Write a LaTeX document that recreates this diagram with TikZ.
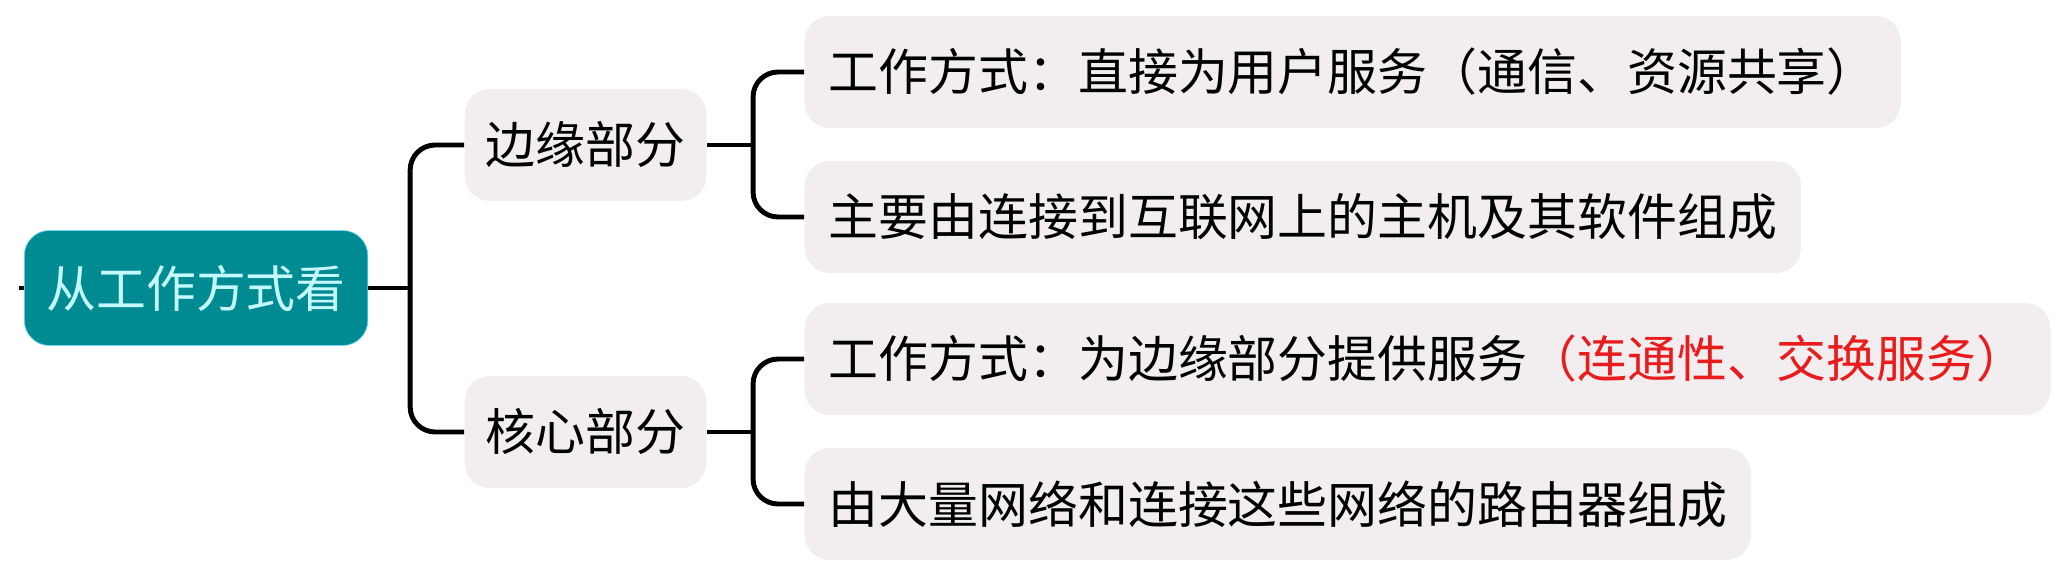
\documentclass[tikz,border=0pt]{standalone}
\usepackage{fontspec}
\setmainfont{Noto Sans CJK SC}
\usetikzlibrary{positioning, calc}

\definecolor{roottl}{RGB}{0,138,146}
\definecolor{rootfg}{RGB}{196,250,255}
\definecolor{boxbg}{RGB}{242,238,239}
\definecolor{hired}{RGB}{232,28,28}

\begin{document}
\begin{tikzpicture}[
     rootbox/.style={fill=roottl, draw=cyan!55, very thin, rounded corners=0.25cm, text=rootfg,
          inner xsep=0.22cm, minimum height=1.15cm, anchor=west},
     partbox/.style={fill=boxbg, rounded corners=0.25cm, inner xsep=0.21cm, minimum height=1.12cm, anchor=west},
     leafbox/.style={fill=boxbg, rounded corners=0.25cm, inner xsep=0.24cm, minimum height=1.12cm, anchor=west},
     link/.style={line width=1.4pt, rounded corners=0.25cm},
     font=\fontsize{14.2}{17}\selectfont]
               \useasboundingbox (0,0) rectangle (20.68,5.83);
               \node[rootbox] (root) at (0.24,2.95) {从工作方式看};
               \node[partbox] (edge) at (4.64,4.38) {边缘部分};
               \node[partbox] (core) at (4.64,1.51) {核心部分};
               \node[leafbox] (e1) at (8.04,5.11) {工作方式：直接为用户服务（通信、资源共享）};
               \node[leafbox] (e2) at (8.04,3.66) {主要由连接到互联网上的主机及其软件组成};
               \node[leafbox] (c1) at (8.04,2.24) {工作方式：为边缘部分提供服务\textcolor{hired}{（连通性、交换服务）}};
               \node[leafbox] (c2) at (8.04,0.79) {由大量网络和连接这些网络的路由器组成};
               % root to the two parts
               \draw[link] (root.west) -- ++(-0.05,0);
               \draw[link] (root.east) -- ++(0.42,0) coordinate (j0);
               \draw[link] (j0) |- (edge.west);
               \draw[link] (j0) |- (core.west);
               % parts to leaves
               \draw[link] (edge.east) -- ++(0.46,0) coordinate (j1);
               \draw[link] (j1) |- (e1.west);
               \draw[link] (j1) |- (e2.west);
               \draw[link] (core.east) -- ++(0.46,0) coordinate (j2);
               \draw[link] (j2) |- (c1.west);
               \draw[link] (j2) |- (c2.west);
          \end{tikzpicture}
\end{document}
